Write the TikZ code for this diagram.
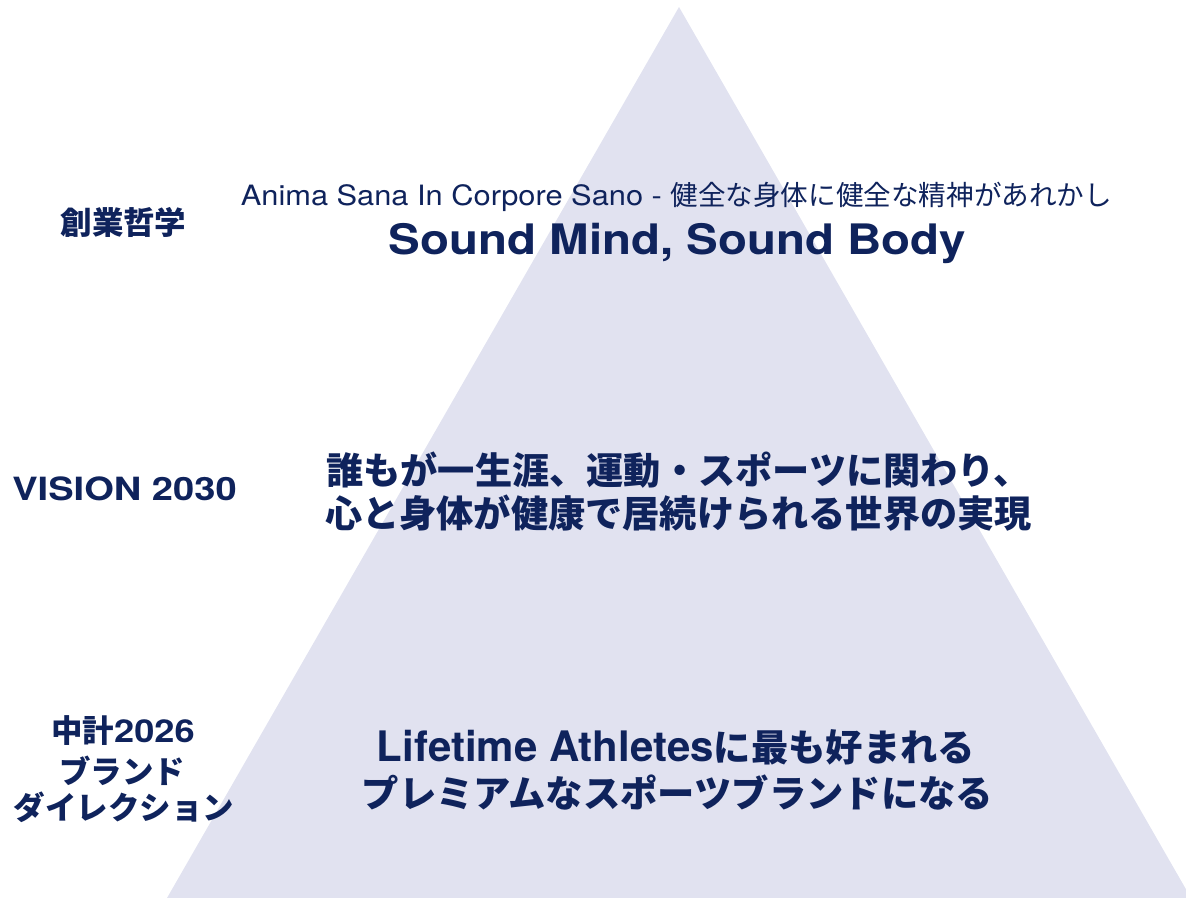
\documentclass[tikz,border=0pt]{standalone}
\usepackage{fontspec}
\usepackage{graphicx}
\setmainfont{TeX Gyre Heros}
\newfontfamily\jp{Noto Sans CJK JP}
\newfontfamily\hv{TeX Gyre Heros}
\definecolor{navy}{RGB}{15,35,92}
\definecolor{trifill}{RGB}{225,226,240}
\tikzset{txt/.style={inner sep=0pt, text=navy, anchor=center}}
\begin{document}
\begin{tikzpicture}[x=0.75pt,y=-0.75pt]
\useasboundingbox (0,0) rectangle (1186,898);
\begin{scope}
\clip (0,0) rectangle (1186,898);
\fill[trifill] (679,7) -- (1191,898) -- (167,898) -- cycle;
\end{scope}

\node[txt] (founding) at (123.5,222) {\jp\bfseries\fontsize{23.6}{28}\selectfont 創業哲学};
\node[txt] (latin) at (676.5,197) {\fontsize{21}{25}\selectfont\scalebox{1.1}[1]{Anima Sana In Corpore Sano - }\jp\fontsize{20.7}{25}\selectfont 健全な身体に健全な精神があれかし};
\node[txt] (motto) at (677.5,243.5) {\bfseries\fontsize{31.5}{36}\selectfont\scalebox{1.13}[1]{Sound Mind, Sound Body}};

\node[txt] (vision) at (124.5,489) {\bfseries\fontsize{24}{28}\selectfont\scalebox{1.19}[1]{VISION 2030}};
\node[txt] (v1) at (678.5,470) {\jp\bfseries\fontsize{27.9}{32}\selectfont 誰もが一生涯、運動・スポーツに関わり、};
\node[txt] (v2) at (678.5,513) {\jp\bfseries\fontsize{27.9}{32}\selectfont 心と身体が健康で居続けられる世界の実現};

\node[txt] (m1) at (123,731) {\jp\bfseries\fontsize{23.6}{28}\selectfont 中計\hv\scalebox{1.15}[1]{2026}};
\node[txt] (m2) at (122,771) {\jp\bfseries\fontsize{23.6}{28}\selectfont ブランド};
\node[txt] (m3) at (124,807) {\jp\bfseries\fontsize{23.6}{28}\selectfont ダイレクション};

\node[txt] (b1) at (676,747.5) {\bfseries\fontsize{31.5}{36}\selectfont Lifetime Athletes\jp\fontsize{28}{32}\selectfont に最も好まれる};
\node[txt] (b2) at (677.5,793) {\jp\bfseries\fontsize{28}{32}\selectfont プレミアムなスポーツブランドになる};
\end{tikzpicture}
\end{document}
